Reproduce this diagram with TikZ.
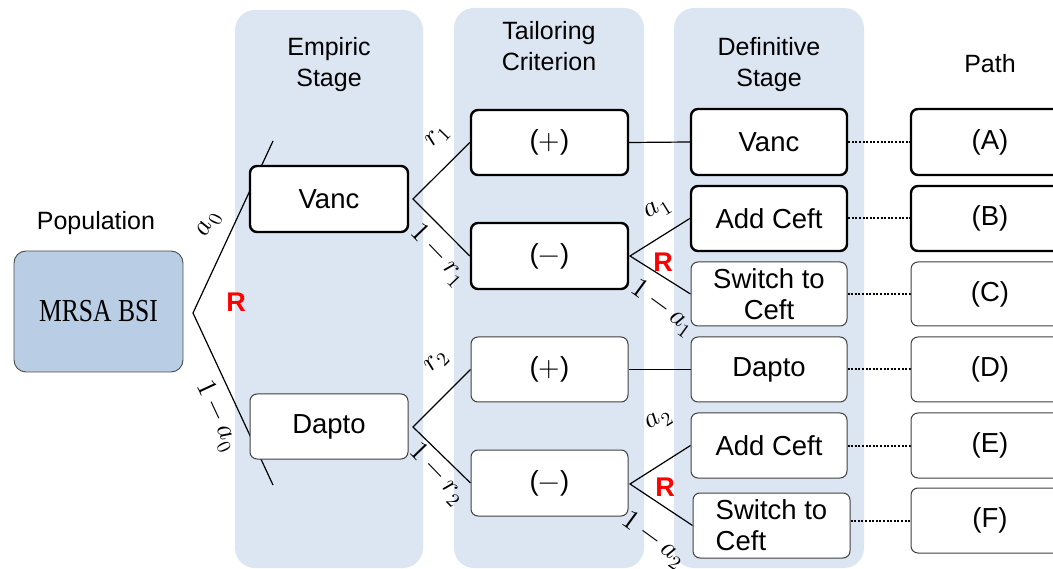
\documentclass[tikz,border=0pt]{standalone}
\usepackage{fontspec}
\usepackage{unicode-math}
\setmainfont{Liberation Sans}
\setmathfont{Latin Modern Math}
\newfontfamily\popfont{Liberation Serif}
\definecolor{panelblue}{HTML}{DCE6F2}
\definecolor{popblue}{HTML}{B9CDE5}
\pgfdeclarelayer{panels}
\pgfdeclarelayer{edges}
\pgfsetlayers{panels,edges,main}
\begin{document}
\begin{tikzpicture}[x=1pt,y=-1pt,
  every node/.style={font=\fontsize{27.5}{31}\selectfont},
  sz/.style 2 args={minimum width=#1pt, minimum height=#2pt},
  box/.style={rounded corners=7pt, fill=white, align=center, inner sep=2pt},
  boldbox/.style={box, draw=black, line width=2.4pt},
  plainbox/.style={box, draw=black!75, line width=1pt},
  hdr/.style={align=center, font=\fontsize{25}{31}\selectfont},
  prob/.style={font=\fontsize{28}{30}\selectfont, inner sep=0pt},
  rand/.style={text=red, font=\fontsize{27}{30}\selectfont\bfseries, inner sep=0pt},
  link/.style={line width=1.2pt, black},
  trace/.style={line width=2pt, dash pattern=on 2pt off 1.6pt},
  ]
\useasboundingbox (0,0) rectangle (1053,569);
\clip (0,0) rectangle (1053,569);

% stage panels
\begin{pgfonlayer}{panels}
  \fill[panelblue, rounded corners=20pt] (235,10) rectangle (423,568);
  \fill[panelblue, rounded corners=20pt] (454,8) rectangle (644,568);
  \fill[panelblue, rounded corners=20pt] (674,8) rectangle (864,568);
\end{pgfonlayer}

% column headings
\node[hdr] (hE) at (329,65) {Empiric\\Stage};
\node[hdr] (hT) at (549,46) {Tailoring\\Criterion};
\node[hdr] (hD) at (769,65) {Definitive\\Stage};
\node[hdr] (hP) at (990,64) {Path};
\node[hdr] (hPop) at (96,223) {Population};

% population
\node[rounded corners=12pt, fill=popblue, draw=black!70, line width=0.9pt, sz={169}{121}]
  (pop) at (98.5,311.5) {\scalebox{0.8}[1]{\popfont\fontsize{32}{34}\selectfont MRSA BSI}};

% empiric stage
\node[boldbox, sz={158}{66}] (e1) at (329,199) {Vanc};
\node[plainbox, sz={158}{65}] (e2) at (329,426.5) {Dapto};

% tailoring criterion
\node[boldbox, sz={157}{65}] (t1) at (549.5,142.5) {($+$)};
\node[boldbox, sz={157}{66}] (t2) at (549.5,256) {($-$)};
\node[plainbox, sz={157}{65}] (t3) at (549.5,369.5) {($+$)};
\node[plainbox, sz={157}{66}] (t4) at (549.5,483) {($-$)};

% definitive stage
\node[boldbox, sz={156}{66}] (d1) at (769,142) {Vanc};
\node[boldbox, sz={156}{65}] (d2) at (769,218.5) {Add Ceft};
\node[plainbox, sz={156}{64}] (d3) at (769,294) {Switch to\\Ceft};
\node[plainbox, sz={156}{65}] (d4) at (769,369.5) {Dapto};
\node[plainbox, sz={156}{65}] (d5) at (769,445.5) {Add Ceft};
\node[plainbox, sz={157}{65}, align=left] (d6) at (771.5,525.5) {Switch to\\Ceft};

% paths
\node[boldbox, sz={158}{66}] (p1) at (990,142) {(A)};
\node[boldbox, sz={158}{65}] (p2) at (990,218.5) {(B)};
\node[plainbox, sz={158}{64}] (p3) at (990,294) {(C)};
\node[plainbox, sz={158}{65}] (p4) at (990,369.5) {(D)};
\node[plainbox, sz={158}{65}] (p5) at (990,445.5) {(E)};
\node[plainbox, sz={158}{65}] (p6) at (990,520.5) {(F)};

% branching points and free line ends
\coordinate (r0) at (193,313);
\coordinate (tipA) at (273,141);
\coordinate (tipB) at (273,485);
\coordinate (b1) at (413,199);
\coordinate (b2) at (413,427);
\coordinate (c1) at (630,256);
\coordinate (c2) at (630,484);

\begin{pgfonlayer}{edges}
  \draw[link] (tipA) -- (r0) -- (tipB);
  \draw[link] (t1.west) -- (b1) -- (t2.west);
  \draw[link] (t3.west) -- (b2) -- (t4.west);
  \draw[link] (t1.east) -- (d1.west);
  \draw[link] (t3.east) -- (d4.west);
  \draw[link] (d2.west) -- (c1) -- (d3.west);
  \draw[link] (d5.west) -- (c2) -- (d6.west);
  \draw[trace] (d1.east) -- (p1.west);
  \draw[trace] (d2.east) -- (p2.west);
  \draw[trace] (d3.east) -- (p3.west);
  \draw[trace] (d4.east) -- (p4.west);
  \draw[trace] (d5.east) -- (p5.west);
  \draw[trace] (d6.east |- p6.west) -- (p6.west);
\end{pgfonlayer}

% branch probabilities
\node[prob, rotate=65] (la0) at (210,225) {$a_0$};
\node[prob, rotate=-65] (lna0) at (217,416) {$1-a_0$};
\node[prob, rotate=46] (lr1) at (438,137) {$r_1$};
\node[prob, rotate=-46] (lnr1) at (438,255) {$1-r_1$};
\node[prob, rotate=46] (lr2) at (437,362) {$r_2$};
\node[prob, rotate=-46] (lnr2) at (437,474) {$1-r_2$};
\node[prob, rotate=32] (la1) at (658,210) {$a_1$};
\node[prob, rotate=-36] (lna1) at (663,308) {$1-a_1$};
\node[prob, rotate=32] (la2) at (659,421) {$a_2$};
\node[prob, rotate=-36] (lna2) at (654,540) {$1-a_2$};

% randomisation marks
\node[rand] (R0) at (236,302) {R};
\node[rand] (R1) at (663,262) {R};
\node[rand] (R2) at (665,487) {R};
\end{tikzpicture}
\end{document}
